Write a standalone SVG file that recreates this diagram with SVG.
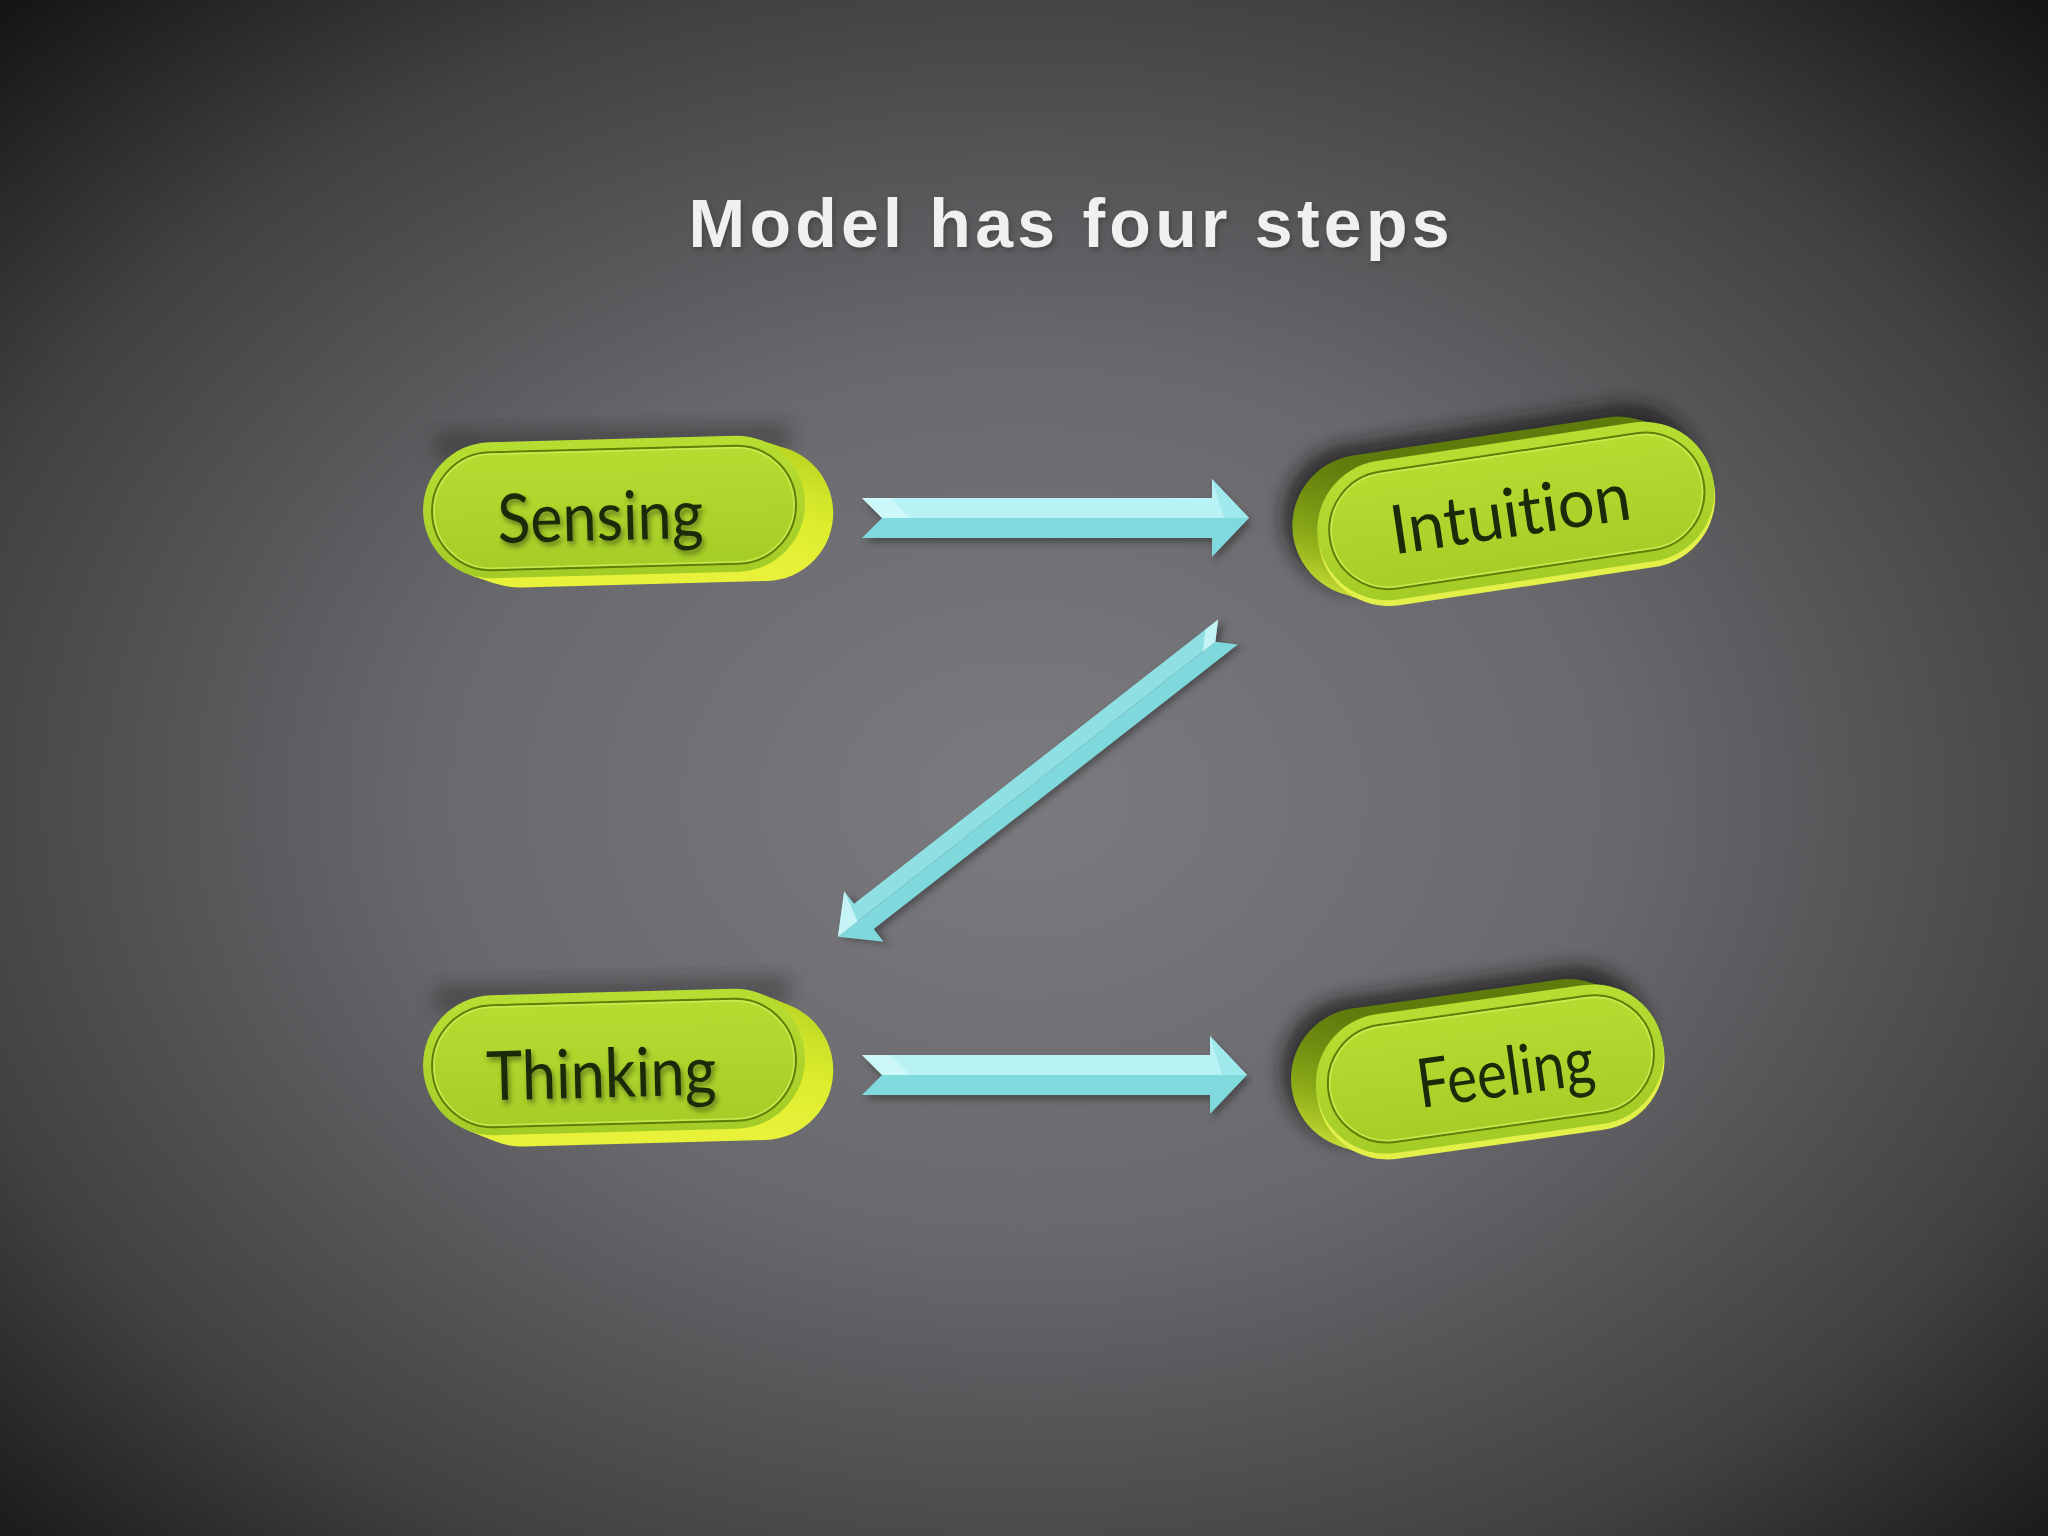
<svg xmlns="http://www.w3.org/2000/svg" width="2048" height="1536" viewBox="0 0 2048 1536">
<defs>
<radialGradient id="bg" cx="0.5" cy="0.52" r="0.72">
<stop offset="0" stop-color="#7b7a7e"/>
<stop offset="0.4" stop-color="#69686c"/>
<stop offset="0.75" stop-color="#414143"/>
<stop offset="1" stop-color="#141414"/>
</radialGradient>
<linearGradient id="face" x1="0" y1="0" x2="0" y2="1">
<stop offset="0" stop-color="#b6de32"/>
<stop offset="1" stop-color="#a4cc26"/>
</linearGradient>
<linearGradient id="sideY" x1="0" y1="0" x2="0" y2="1">
<stop offset="0" stop-color="#b8d422"/>
<stop offset="0.6" stop-color="#dcec2c"/>
<stop offset="1" stop-color="#e8f23a"/>
</linearGradient>
<linearGradient id="sideG" x1="0" y1="0" x2="0" y2="1">
<stop offset="0" stop-color="#5e7a0c"/>
<stop offset="0.5" stop-color="#8fae18"/>
<stop offset="1" stop-color="#cfe43a"/>
</linearGradient>
<filter id="blur" x="-20%" y="-40%" width="140%" height="180%"><feGaussianBlur stdDeviation="9"/></filter>
<filter id="tshadow" x="-10%" y="-30%" width="120%" height="160%"><feGaussianBlur stdDeviation="2.5"/></filter>
<filter id="ashadow" x="-10%" y="-50%" width="120%" height="200%"><feGaussianBlur stdDeviation="3"/></filter>
</defs>
<style>
.lbl{font-family:Lato,"Open Sans","Liberation Sans",sans-serif;font-size:68px;fill:#1b2a08;text-anchor:middle;font-variant-ligatures:none;font-feature-settings:"liga" 0}
.lsh{font-family:Lato,"Open Sans","Liberation Sans",sans-serif;font-size:68px;fill:#1e2a10;text-anchor:middle;opacity:0.5;font-variant-ligatures:none;font-feature-settings:"liga" 0}
.inner{fill:none;stroke:#5f7e0a;stroke-width:2}
.innerhl{fill:none;stroke:#d2ee5a;stroke-width:1.5;opacity:0.8}
.sy{fill:url(#sideY)}
.sg{fill:url(#sideG)}
.atop{fill:#b9f2f4}
.abot{fill:#80d9dc}
.ahead{fill:#9fe8ec}
.ash{fill:#303032;opacity:0.55}
</style>
<rect width="2048" height="1536" fill="url(#bg)"/>
<text x="1069" y="247" font-family="'Liberation Sans',Arial,sans-serif" font-size="68" font-weight="bold" fill="#303030" opacity="0.5" text-anchor="middle" textLength="761" lengthAdjust="spacing" filter="url(#tshadow)" transform="translate(2,3)">Model has four steps</text>
<text x="1069" y="247" font-family="'Liberation Sans',Arial,sans-serif" font-size="68" font-weight="bold" fill="#f0f0f0" text-anchor="middle" textLength="761" lengthAdjust="spacing">Model has four steps</text>

<g id="connectors">
<g transform="translate(862,518)">
<path class="ash" filter="url(#ashadow)" transform="translate(3,5)" d="M0,-20 H350 V-39 L387,0 L350,39 V20 H0 L20,0 Z"/>
<path class="atop" d="M0,-20 H350 V-39 L387,0 H20 Z"/>
<path class="abot" d="M20,0 H387 L350,39 V20 H0 Z"/>
<path class="ahead" d="M350,-39 L387,0 L362,0 Z"/>
<path fill="#d8fbfc" d="M0,-20 L20,0 L48,0 L28,-20 Z" opacity="0.6"/>
</g>
<g transform="translate(862,1075)">
<path class="ash" filter="url(#ashadow)" transform="translate(3,5)" d="M0,-20 H348 V-39 L385,0 L348,39 V20 H0 L20,0 Z"/>
<path class="atop" d="M0,-20 H348 V-39 L385,0 H20 Z"/>
<path class="abot" d="M20,0 H385 L348,39 V20 H0 Z"/>
<path class="ahead" d="M348,-39 L385,0 L360,0 Z"/>
<path fill="#d8fbfc" d="M0,-20 L20,0 L48,0 L28,-20 Z" opacity="0.6"/>
</g>
<g transform="translate(1228,632) rotate(142)">
<path class="ash" filter="url(#ashadow)" transform="translate(-3,-5)" d="M0,-16 H462 V-32 L495,0 L462,32 V16 H0 L16,0 Z"/>
<path fill="#7ed8dc" d="M0,-16 H462 V-32 L495,0 H16 Z"/>
<path fill="#8fe0e2" d="M16,0 H495 L462,32 V16 H0 Z"/>
<path fill="#c6f4f6" d="M462,32 L495,0 L470,0 Z"/>
<path fill="#d8fbfc" d="M0,16 L16,0 L32,0 L16,16 Z" opacity="0.7"/>
</g>
</g>

<g id="sensing" transform="translate(614,507) rotate(-1.5)">
<rect x="-180" y="-80" width="360" height="30" rx="15" fill="#1a1a1a" opacity="0.35" filter="url(#blur)"/>
<rect class="sy" x="-163" y="-58" width="382" height="136" rx="68"/>
<rect class="sy" x="-170" y="-60" width="382" height="136" rx="68"/>
<rect class="sy" x="-177" y="-63" width="382" height="136" rx="68"/>
<rect class="sy" x="-184" y="-65" width="382" height="136" rx="68"/>
<rect x="-191" y="-68" width="382" height="136" rx="68" fill="url(#face)"/>
<rect x="-182" y="-58" width="364" height="118" rx="59" class="inner"/>
<rect x="-180" y="-56" width="360" height="114" rx="57" class="innerhl"/>
<text class="lsh" x="-12" y="37" textLength="206" lengthAdjust="spacingAndGlyphs" filter="url(#tshadow)">Sensing</text>
<text class="lbl" x="-14" y="33" textLength="206" lengthAdjust="spacingAndGlyphs">Sensing</text>
</g>

<g id="thinking" transform="translate(614,1062) rotate(-1.5)">
<rect x="-180" y="-82" width="360" height="30" rx="15" fill="#1a1a1a" opacity="0.35" filter="url(#blur)"/>
<rect class="sy" x="-163" y="-58" width="382" height="140" rx="70"/>
<rect class="sy" x="-170" y="-61" width="382" height="140" rx="70"/>
<rect class="sy" x="-177" y="-64" width="382" height="140" rx="70"/>
<rect class="sy" x="-184" y="-67" width="382" height="140" rx="70"/>
<rect x="-191" y="-70" width="382" height="140" rx="70" fill="url(#face)"/>
<rect x="-182" y="-60" width="364" height="122" rx="61" class="inner"/>
<rect x="-180" y="-58" width="360" height="118" rx="59" class="innerhl"/>
<text class="lsh" x="-11" y="39" textLength="230" lengthAdjust="spacingAndGlyphs" filter="url(#tshadow)">Thinking</text>
<text class="lbl" x="-13" y="35" textLength="230" lengthAdjust="spacingAndGlyphs">Thinking</text>
</g>

<g id="intuition" transform="translate(1516,512) rotate(-8.5)">
<rect x="-232" y="-92" width="420" height="146" rx="73" fill="#121212" opacity="0.7" filter="url(#blur)"/>
<rect class="sg" x="-224" y="-80" width="400" height="142" rx="71"/>
<rect class="sg" x="-218" y="-77" width="400" height="142" rx="71"/>
<rect class="sg" x="-212" y="-74" width="400" height="142" rx="71"/>
<rect class="sg" x="-206" y="-71" width="400" height="142" rx="71"/>
<rect x="-200" y="-67" width="400" height="142" rx="71" fill="#e4f04a"/>
<rect x="-200" y="-71" width="400" height="140" rx="70" fill="url(#face)"/>
<rect x="-188" y="-60" width="378" height="118" rx="59" class="inner"/>
<rect x="-186" y="-58" width="374" height="114" rx="57" class="innerhl"/>
<text class="lbl" x="-6" y="24" textLength="242" lengthAdjust="spacingAndGlyphs">Intuition</text>
</g>

<g id="feeling" transform="translate(1490,1070) rotate(-8)">
<rect x="-207" y="-92" width="370" height="146" rx="73" fill="#121212" opacity="0.7" filter="url(#blur)"/>
<rect class="sg" x="-199" y="-80" width="350" height="142" rx="71"/>
<rect class="sg" x="-193" y="-77" width="350" height="142" rx="71"/>
<rect class="sg" x="-187" y="-74" width="350" height="142" rx="71"/>
<rect class="sg" x="-181" y="-71" width="350" height="142" rx="71"/>
<rect x="-175" y="-67" width="350" height="142" rx="71" fill="#e4f04a"/>
<rect x="-175" y="-71" width="350" height="140" rx="70" fill="url(#face)"/>
<rect x="-163" y="-60" width="328" height="118" rx="59" class="inner"/>
<rect x="-161" y="-58" width="324" height="114" rx="57" class="innerhl"/>
<text class="lbl" x="15" y="28" textLength="178" lengthAdjust="spacingAndGlyphs">Feeling</text>
</g>
</svg>
